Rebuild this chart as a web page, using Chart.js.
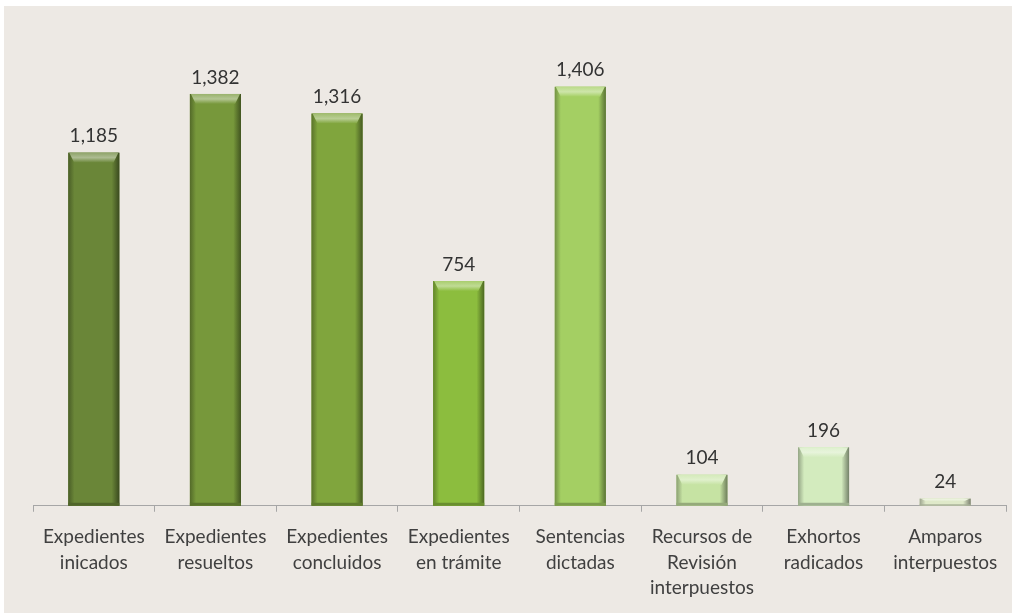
<!DOCTYPE html>
<html>
<head>
<meta charset="utf-8">
<script src="https://cdn.jsdelivr.net/npm/chart.js@4.4.0/dist/chart.umd.min.js"></script>
<style>
  html, body { margin: 0; padding: 0; background: #ffffff; }
  #wrap { width: 1016px; height: 615px; position: relative; }
</style>
</head>
<body>
<div id="wrap"><canvas id="chart"></canvas></div>
<script>
// categories (multi-line labels)
const categories = [
  ['Expedientes', 'inicados'],
  ['Expedientes', 'resueltos'],
  ['Expedientes', 'concluidos'],
  ['Expedientes', 'en trámite'],
  ['Sentencias', 'dictadas'],
  ['Recursos de', 'Revisión', 'interpuestos'],
  ['Exhortos', 'radicados'],
  ['Amparos', 'interpuestos']
];
const values = [1185, 1382, 1316, 754, 1406, 104, 196, 24];
const barColors = ['#6a8638', '#77983b', '#80a53d', '#8cbd3e', '#a4cf63', '#c6e3a3', '#d3ebbe', '#dfe9c9'];

// shade a hex color by a factor (<1 darker, >1 lighter)
function shade(hex, f) {
  const n = parseInt(hex.slice(1), 16);
  let r = (n >> 16) & 255, g = (n >> 8) & 255, b = n & 255;
  if (f < 1) { r *= f; g *= f; b *= f; }
  else { r += (255 - r) * (f - 1); g += (255 - g) * (f - 1); b += (255 - b) * (f - 1); }
  return `rgb(${Math.round(r)}, ${Math.round(g)}, ${Math.round(b)})`;
}

// light panel behind the chart
const panelPlugin = {
  id: 'panel',
  beforeDraw(chart) {
    const ctx = chart.ctx;
    ctx.save();
    ctx.fillStyle = '#ede9e4';
    ctx.fillRect(4, 6, 1008, 607);
    ctx.restore();
  }
};

// bevel look + value labels on top of each bar
const bevelPlugin = {
  id: 'bevel',
  afterDatasetsDraw(chart) {
    const ctx = chart.ctx;
    const meta = chart.getDatasetMeta(0);
    meta.data.forEach((bar, i) => {
      const { x, y, base, width } = bar.getProps(['x', 'y', 'base', 'width'], true);
      const left = x - width / 2;
      const h = base - y;
      const c = barColors[i];
      ctx.save();
      // side shading
      const g = ctx.createLinearGradient(left, 0, left + width, 0);
      g.addColorStop(0, shade(c, 0.7));
      g.addColorStop(0.12, c);
      g.addColorStop(0.85, c);
      g.addColorStop(1, shade(c, 0.55));
      ctx.fillStyle = g;
      ctx.fillRect(left, y, width, h);
      // top cap
      const cap = Math.min(10, h * 0.35);
      const tg = ctx.createLinearGradient(0, y, 0, y + cap);
      tg.addColorStop(0, shade(c, 1.25));
      tg.addColorStop(0.5, shade(c, 1.45));
      tg.addColorStop(1, c);
      ctx.fillStyle = tg;
      ctx.beginPath();
      ctx.moveTo(left + 1, y);
      ctx.lineTo(left + width - 1, y);
      ctx.lineTo(left + width - 6, y + cap);
      ctx.lineTo(left + 6, y + cap);
      ctx.closePath();
      ctx.fill();
      // bottom edge
      ctx.fillStyle = shade(c, 0.75);
      ctx.fillRect(left, base - Math.min(3, h * 0.2), width, Math.min(3, h * 0.2));
      // value label
      ctx.fillStyle = '#333333';
      ctx.font = '19px Lato';
      ctx.textAlign = 'center';
      ctx.textBaseline = 'bottom';
      ctx.fillText(values[i].toLocaleString('en-US'), x, y - 7);
      ctx.restore();
    });
  }
};

new Chart(document.getElementById('chart'), {
  type: 'bar',
  data: {
    labels: categories,
    datasets: [{
      data: values,
      backgroundColor: barColors,
      borderWidth: 0,
      barPercentage: 0.42,
      categoryPercentage: 1
    }]
  },
  options: {
    responsive: true,
    maintainAspectRatio: false,
    animation: false,
    layout: { padding: { top: 29, left: 33, right: 10, bottom: 2 } },
    plugins: {
      legend: { display: false },
      tooltip: { enabled: false }
    },
    scales: {
      y: {
        display: false,
        min: 0,
        max: 1600
      },
      x: {
        border: { color: '#a6a6a6', width: 1 },
        grid: {
          offset: true,
          drawOnChartArea: false,
          drawTicks: true,
          tickLength: 6,
          color: '#a6a6a6'
        },
        ticks: {
          color: '#404040',
          font: { family: 'Lato', size: 19, lineHeight: 1.32 },
          padding: 13,
          maxRotation: 0,
          autoSkip: false
        }
      }
    }
  },
  plugins: [panelPlugin, bevelPlugin]
});
</script>
</body>
</html>
